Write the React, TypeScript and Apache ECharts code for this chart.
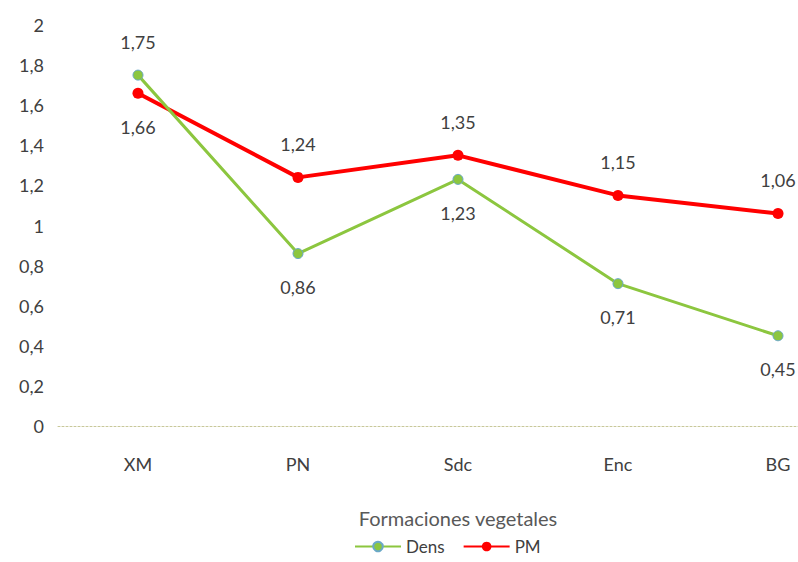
import React, { useEffect, useRef } from "react";
import * as echarts from "echarts";

const categories = ["XM", "PN", "Sdc", "Enc", "BG"];
const densValues = [1.75, 0.86, 1.23, 0.71, 0.45];
const pmValues = [1.66, 1.24, 1.35, 1.15, 1.06];
const densLabelPos = ["top", "bottom", "bottom", "bottom", "bottom"];
const pmLabelPos = ["bottom", "top", "top", "top", "top"];

const fmt = (v: number) => String(v).replace(".", ",");
const FONT = "Lato, 'Open Sans', sans-serif";
const TXT = "#404040";

export default function App() {
  const ref = useRef<HTMLDivElement>(null);
  useEffect(() => {
    const chart = echarts.init(ref.current!, null, { renderer: "svg" });
    const lbl = (pos: string) => ({
      show: true,
      position: pos,
      distance: 19,
      color: TXT,
      fontSize: 18,
      fontFamily: FONT,
      formatter: (p: any) => fmt(p.value),
    });
    chart.setOption({
      animation: false,
      textStyle: { fontFamily: FONT },
      grid: { left: 58, top: 25, width: 800, height: 401, containLabel: false },
      xAxis: {
        type: "category",
        data: categories,
        boundaryGap: true,
        axisLine: { show: true, lineStyle: { color: "#c8c89a", type: [2, 2], width: 1 } },
        axisTick: { show: false },
        axisLabel: { color: TXT, fontSize: 18, fontFamily: FONT, margin: 29 },
        name: "Formaciones vegetales",
        nameLocation: "middle",
        nameGap: 82,
        nameTextStyle: { color: "#595959", fontSize: 20, fontFamily: FONT },
      },
      yAxis: {
        type: "value",
        min: 0,
        max: 2,
        interval: 0.2,
        axisLine: { show: false },
        axisTick: { show: false },
        splitLine: { show: false },
        axisLabel: {
          color: TXT,
          fontSize: 18,
          fontFamily: FONT,
          margin: 14,
          formatter: (v: number) => fmt(Math.round(v * 10) / 10),
        },
      },
      legend: {
        bottom: 2,
        left: 349,
        itemWidth: 46,
        itemHeight: 12,
        itemGap: 18,
        textStyle: { color: TXT, fontSize: 17, fontFamily: FONT },
        data: ["Dens", "PM"],
      },
      series: [
        {
          name: "PM",
          type: "line",
          data: pmValues.map((v, i) => ({ value: v, label: lbl(pmLabelPos[i]) })),
          symbol: "circle",
          symbolSize: 11,
          lineStyle: { color: "#ff0000", width: 4 },
          itemStyle: { color: "#ff0000" },
          z: 2,
        },
        {
          name: "Dens",
          type: "line",
          data: densValues.map((v, i) => ({ value: v, label: lbl(densLabelPos[i]) })),
          symbol: "circle",
          symbolSize: 10,
          lineStyle: { color: "#8cc63f", width: 3 },
          itemStyle: { color: "#8cc63f", borderColor: "#6aa8c8", borderWidth: 1 },
          z: 3,
        },
      ],
    });
    return () => chart.dispose();
  }, []);
  return (
    <div
      style={{ position: "fixed", left: 0, top: 0, width: 798, height: 562, overflow: "hidden", background: "#fff" }}
    >
      <div ref={ref} style={{ width: 870, height: 562 }} />
    </div>
  );
}
